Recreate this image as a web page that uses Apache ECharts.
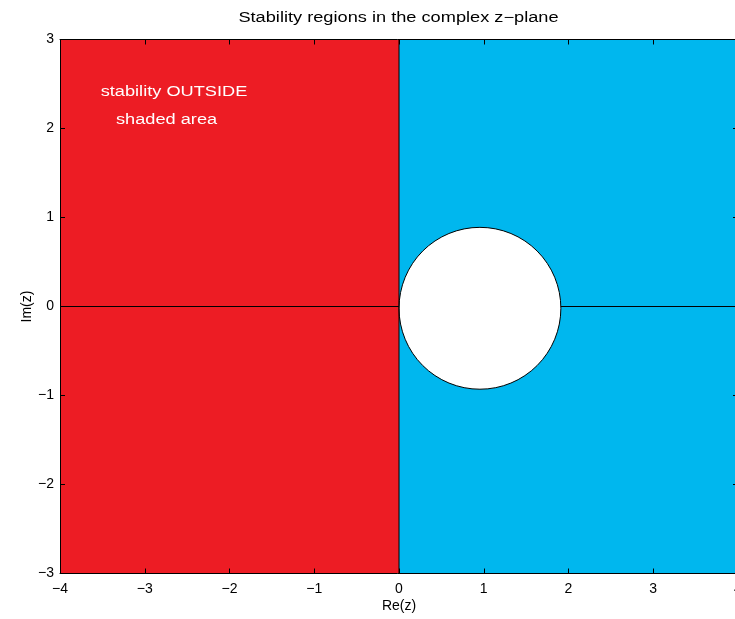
<!DOCTYPE html>
<html>
<head>
<meta charset="utf-8">
<script src="https://cdn.jsdelivr.net/npm/echarts@6/dist/echarts.min.js"></script>
<style>
  html, body { margin: 0; padding: 0; background: #fff; }
  #chart { width: 735px; height: 619px; }
</style>
</head>
<body>
<div id="chart"></div>
<script>
// Axis extents and tick step of the complex z-plane
const reRange = [-4, 4];
const imRange = [-3, 3];
const tickStep = 1;

// Shaded half-planes: [re0, re1, im0, im1]
const regionLeft = [-4, 0, -3, 3];
const regionRight = [0, 4, -3, 3];

// Unshaded disc: centre (re, im) and radius in Re units
const discCentre = [0.955, -0.02];
const discRadius = 0.955;

// Real and imaginary axis lines drawn inside the plane
const realAxisLine = [[-4, 0], [4, 0]];
const imagAxisLine = [[0, -3], [0, 3]];

// Annotation text and its anchor points
const noteTexts = ['stability OUTSIDE', 'shaded area'];
const noteRe = [-3.52, -3.34];
const noteIm = [2.41, 2.09];

const titleText = 'Stability regions in the complex z\u2212plane';

const regionColors = ['#ED1C24', '#00B7EE'];
const FONT = 'Liberation Sans, Arial, sans-serif';
const minus = v => String(v).replace('-', '\u2212');

const chart = echarts.init(document.getElementById('chart'), null, { renderer: 'canvas' });

const axisCommon = {
  type: 'value',
  interval: tickStep,
  z: 10,
  axisLine: { show: true, onZero: false, lineStyle: { color: '#000', width: 1 } },
  axisTick: { show: true, inside: true, length: 5, lineStyle: { color: '#000', width: 1 } },
  splitLine: { show: false }
};
const labelStyle = {
  color: '#000',
  fontFamily: FONT,
  fontSize: 14,
  formatter: minus
};

chart.setOption({
  animation: false,
  graphic: [
    {
      type: 'text',
      x: 398.5, y: 18,
      scaleX: 1.3,
      style: {
        text: titleText,
        fill: '#000',
        fontSize: 14,
        fontFamily: FONT,
        textAlign: 'center',
        textVerticalAlign: 'middle'
      }
    }
  ],
  grid: { left: 60, top: 39.5, width: 678, height: 534, outerBoundsMode: 'none', containLabel: false },
  xAxis: [
    Object.assign({}, axisCommon, {
      position: 'bottom', min: reRange[0], max: reRange[1],
      axisLabel: Object.assign({}, labelStyle, { margin: 9 }),
      name: 'Re(z)', nameLocation: 'middle', nameGap: 26, nameMoveOverlap: false,
      nameTextStyle: { color: '#000', fontSize: 14, fontFamily: FONT }
    }),
    Object.assign({}, axisCommon, {
      position: 'top', min: reRange[0], max: reRange[1],
      axisLabel: { show: false }
    })
  ],
  yAxis: [
    Object.assign({}, axisCommon, {
      position: 'left', min: imRange[0], max: imRange[1],
      axisLabel: Object.assign({}, labelStyle, { margin: 6 }),
      name: 'Im(z)', nameLocation: 'middle', nameGap: 26, nameRotate: 90, nameMoveOverlap: false,
      nameTextStyle: { color: '#000', fontSize: 14, fontFamily: FONT }
    }),
    Object.assign({}, axisCommon, {
      position: 'right', min: imRange[0], max: imRange[1],
      axisLabel: { show: false }
    })
  ],
  series: [
    {
      // shaded half-planes
      type: 'custom',
      z: 1,
      clip: true,
      data: [regionLeft, regionRight],
      renderItem: (params, api) => {
        const p0 = api.coord([api.value(0), api.value(3)]);
        const p1 = api.coord([api.value(1), api.value(2)]);
        return {
          type: 'rect',
          shape: { x: p0[0], y: p0[1], width: p1[0] - p0[0], height: p1[1] - p0[1] },
          style: { fill: regionColors[params.dataIndex] }
        };
      }
    },
    {
      // real axis
      type: 'line',
      z: 2,
      data: realAxisLine,
      symbol: 'none',
      silent: true,
      lineStyle: { color: '#000', width: 1 }
    },
    {
      // unshaded disc
      type: 'custom',
      z: 3,
      clip: true,
      data: [[discCentre[0], discCentre[1], discRadius]],
      renderItem: (params, api) => {
        const c = api.coord([api.value(0), api.value(1)]);
        const r = api.size([api.value(2), 0])[0];
        return {
          type: 'circle',
          shape: { cx: c[0], cy: c[1], r: r },
          style: { fill: '#fff', stroke: '#000', lineWidth: 1 }
        };
      }
    },
    {
      // imaginary axis
      type: 'line',
      z: 4,
      data: imagAxisLine,
      symbol: 'none',
      silent: true,
      lineStyle: { color: '#000', width: 1 }
    },
    {
      // annotation
      type: 'custom',
      z: 5,
      data: noteTexts.map((t, i) => [noteRe[i], noteIm[i]]),
      renderItem: (params, api) => {
        const p = api.coord([api.value(0), api.value(1)]);
        return {
          type: 'text',
          x: p[0], y: p[1],
          scaleX: 1.3,
          style: {
            text: noteTexts[params.dataIndex],
            fill: '#fff',
            fontSize: 14,
            fontFamily: FONT,
            textAlign: 'left',
            textVerticalAlign: 'middle',
            textShadowColor: '#000',
            textShadowOffsetX: 1,
            textShadowOffsetY: 1,
            textShadowBlur: 0
          }
        };
      }
    }
  ]
});
</script>
</body>
</html>
